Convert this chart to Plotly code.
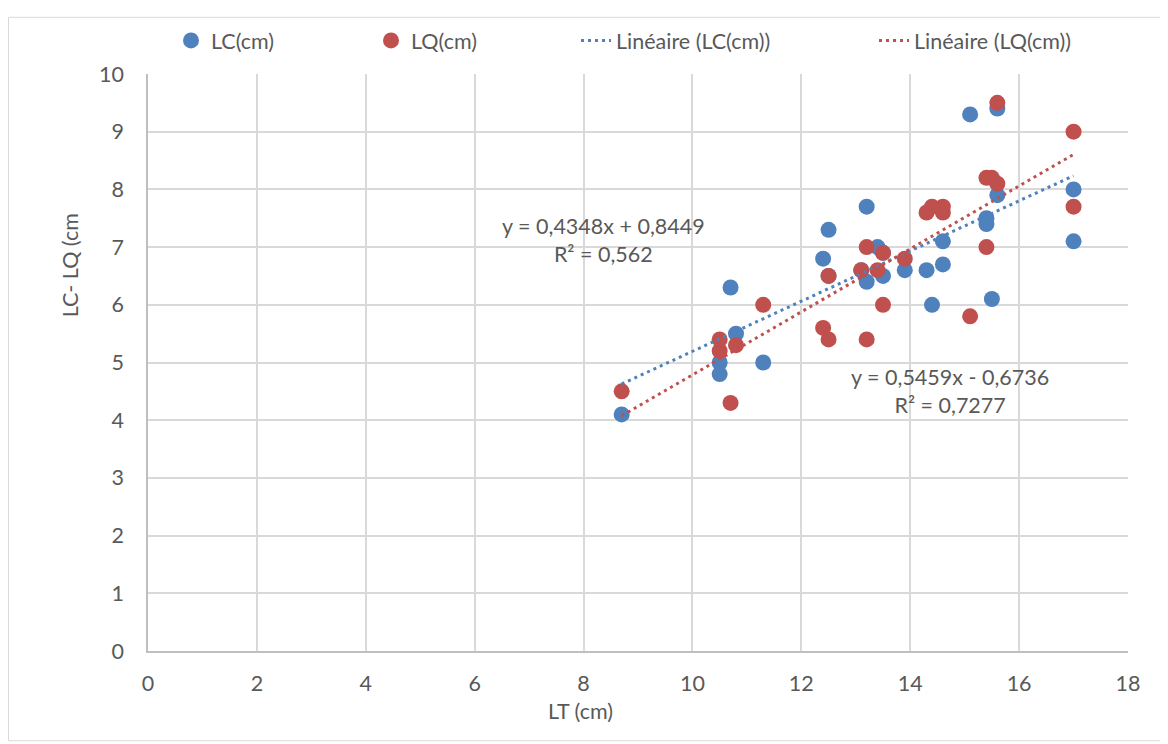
import plotly.graph_objects as go

# Data
lt_lc = [8.7, 10.5, 10.5, 10.7, 10.8, 11.3, 12.4, 12.5, 12.5, 13.1, 13.2, 13.2, 13.4, 13.5,
         13.5, 13.9, 14.3, 14.4, 14.6, 14.6, 15.1, 15.4, 15.4, 15.5, 15.6, 15.6, 17.0, 17.0]
lc = [4.1, 5.0, 4.8, 6.3, 5.5, 5.0, 6.8, 7.3, 6.5, 6.6, 7.7, 6.4, 7.0, 6.5,
      6.9, 6.6, 6.6, 6.0, 7.1, 6.7, 9.3, 7.5, 7.4, 6.1, 9.4, 7.9, 8.0, 7.1]
lt_lq = [8.7, 10.5, 10.5, 10.7, 10.8, 11.3, 12.4, 12.5, 12.5, 13.1, 13.2, 13.2, 13.4, 13.5,
         13.5, 13.9, 14.3, 14.4, 14.6, 14.6, 15.1, 15.4, 15.4, 15.5, 15.6, 15.6, 17.0, 17.0]
lq = [4.5, 5.4, 5.2, 4.3, 5.3, 6.0, 5.6, 6.5, 5.4, 6.6, 7.0, 5.4, 6.6, 6.9,
      6.0, 6.8, 7.6, 7.7, 7.7, 7.6, 5.8, 8.2, 7.0, 8.2, 9.5, 8.1, 9.0, 7.7]

# Trendline coefficients shown on the chart
lc_slope, lc_intercept = 0.4348, 0.8449
lq_slope, lq_intercept = 0.5459, -0.6736
lc_eq = ["y = 0,4348x + 0,8449", "R² = 0,562"]
lq_eq = ["y = 0,5459x - 0,6736", "R² = 0,7277"]

x_ticks = [0, 2, 4, 6, 8, 10, 12, 14, 16, 18]
y_ticks = [0, 1, 2, 3, 4, 5, 6, 7, 8, 9, 10]

BLUE = "#4F81BD"
RED = "#C0504D"
TXT = "#595959"
FONT = "Lato"
FS = 21.5

# page body has an 8px margin; layout numbers below are in figure coordinates
OFF = 8
PL, PT, PW, PH = 148 - OFF, 66 - OFF, 980, 585
FW, FH = 1168 - OFF, 744 - OFF

def px_to_paper_x(sx):
    return (sx - OFF - PL) / PW

def px_to_paper_y(sy):
    return (PT + PH - (sy - OFF)) / PH

def trend(xs, a, b):
    x0, x1 = min(xs), max(xs)
    return [x0, x1], [a * x0 + b, a * x1 + b]

fig = go.Figure()
fig.add_trace(go.Scatter(x=lt_lc, y=lc, mode="markers", name="LC(cm)", legend="legend",
                         marker=dict(color=BLUE, size=16, line=dict(width=0))))
fig.add_trace(go.Scatter(x=lt_lq, y=lq, mode="markers", name="LQ(cm)", legend="legend2",
                         marker=dict(color=RED, size=16, line=dict(width=0))))
tx, ty = trend(lt_lc, lc_slope, lc_intercept)
fig.add_trace(go.Scatter(x=tx, y=ty, mode="lines", name="Linéaire (LC(cm))", legend="legend3",
                         line=dict(color=BLUE, width=3, dash="3px,4px")))
tx, ty = trend(lt_lq, lq_slope, lq_intercept)
fig.add_trace(go.Scatter(x=tx, y=ty, mode="lines", name="Linéaire (LQ(cm))", legend="legend4",
                         line=dict(color=RED, width=3, dash="3px,4px")))

fig.add_annotation(x=8.36, y=7.13, xref="x", yref="y", text="<br>".join(lc_eq),
                   showarrow=False, align="center", font=dict(family=FONT, size=FS, color=TXT))
fig.add_annotation(x=14.73, y=4.51, xref="x", yref="y", text="<br>".join(lq_eq),
                   showarrow=False, align="center", font=dict(family=FONT, size=FS, color=TXT))

# axis titles placed as in the reference
fig.add_annotation(x=px_to_paper_x(580), y=px_to_paper_y(712), xref="paper", yref="paper",
                   text="LT (cm)", showarrow=False, yanchor="middle",
                   font=dict(family=FONT, size=FS, color=TXT))
fig.add_annotation(x=px_to_paper_x(70), y=px_to_paper_y(260), xref="paper", yref="paper",
                   text="LC- LQ (cm", showarrow=False, textangle=-90,
                   xanchor="center", yanchor="middle",
                   font=dict(family=FONT, size=FS, color=TXT))

# chart border
fig.add_shape(type="rect", xref="paper", yref="paper",
              x0=px_to_paper_x(8.5), x1=px_to_paper_x(1163),
              y0=px_to_paper_y(742), y1=px_to_paper_y(8.5),
              line=dict(color="#D9D9D9", width=1), fillcolor="rgba(0,0,0,0)", layer="below")

def leg(text_start_px):
    return dict(orientation="h", x=px_to_paper_x(text_start_px - 42), xanchor="left",
                y=px_to_paper_y(32), yanchor="middle",
                font=dict(family=FONT, size=FS, color=TXT), bgcolor="rgba(0,0,0,0)")

fig.update_layout(
    width=FW, height=FH,
    margin=dict(l=PL, r=FW - PL - PW, t=PT, b=FH - PT - PH),
    paper_bgcolor="white", plot_bgcolor="white",
    font=dict(family=FONT, size=FS, color=TXT),
    showlegend=True,
    legend=leg(213), legend2=leg(413), legend3=leg(618), legend4=leg(916),
    xaxis=dict(range=[0, 18], tickvals=x_ticks, ticktext=[str(v) for v in x_ticks],
               showgrid=True, gridcolor="#D9D9D9", gridwidth=1.5,
               showline=True, linecolor="#BFBFBF", linewidth=1.5,
               zeroline=False, ticks="", ticklabelstandoff=12,
               tickfont=dict(family=FONT, size=FS, color=TXT)),
    yaxis=dict(range=[0, 10], tickvals=y_ticks, ticktext=[str(v) for v in y_ticks],
               showgrid=True, gridcolor="#D9D9D9", gridwidth=1.5,
               showline=True, linecolor="#BFBFBF", linewidth=1.5,
               zeroline=False, ticks="", ticklabelstandoff=18,
               tickfont=dict(family=FONT, size=FS, color=TXT)),
)

fig.write_html("out.html")
